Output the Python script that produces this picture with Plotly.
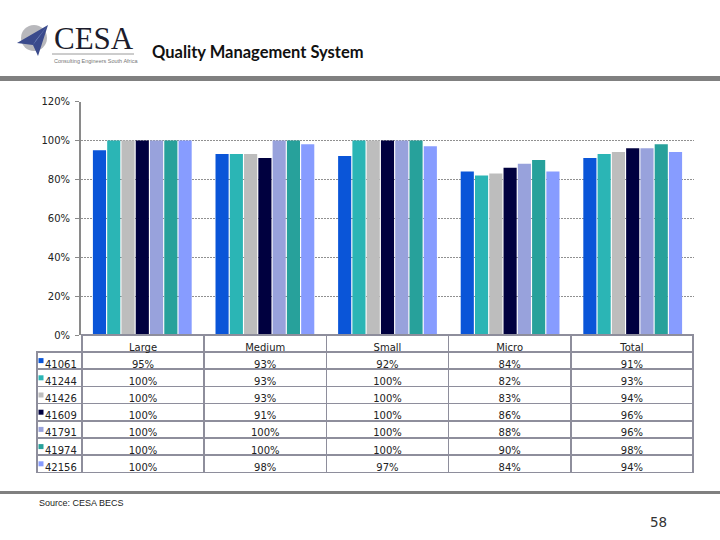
import plotly.graph_objects as go

# ---------------- data ----------------
categories = ["Large", "Medium", "Small", "Micro", "Total"]
series_names = ["41061", "41244", "41426", "41609", "41791", "41974", "42156"]
s41061 = [95, 93, 92, 84, 91]
s41244 = [100, 93, 100, 82, 93]
s41426 = [100, 93, 100, 83, 94]
s41609 = [100, 91, 100, 86, 96]
s41791 = [100, 100, 100, 88, 96]
s41974 = [100, 100, 100, 90, 98]
s42156 = [100, 98, 97, 84, 94]
series_values = [s41061, s41244, s41426, s41609, s41791, s41974, s42156]
y_ticks = [0, 20, 40, 60, 80, 100, 120]
y_tick_labels = ["0%", "20%", "40%", "60%", "80%", "100%", "120%"]
colors = ["#0a55d8", "#2bb5b5", "#bdbdbd", "#00003f", "#98a2dc", "#27a19b", "#879cff"]

W, H = 720, 540
def px(x):
    return x / W
def py(y):
    return 1 - y / H

fig = go.Figure()

for name, vals, col in zip(series_names, series_values, colors):
    fig.add_trace(go.Bar(x=categories, y=vals, name=name, marker=dict(color=col, line=dict(width=0)),
                         showlegend=False, hoverinfo="skip"))

# data table under the chart
TABLE_TOP, ROW_H, HEAD_H = 335, 17.2, 17
legend_col = list(series_names)
table_cols = [legend_col] + [[f"{series_values[i][j]}%" for i in range(len(series_names))]
                             for j in range(len(categories))]
border = "#8e8e9c"
fig.add_trace(go.Table(
    domain=dict(x=[px(37), px(693)], y=[py(474), py(TABLE_TOP)]),
    columnwidth=[45] + [122.5] * 5,
    header=dict(values=[""] + categories,
                fill=dict(color=["rgba(0,0,0,0)"] + ["white"] * 5),
                line=dict(color=["rgba(0,0,0,0)"] + [border] * 5, width=1.5),
                font=dict(family="DejaVu Sans", size=10, color="#222"),
                align="center", height=HEAD_H),
    cells=dict(values=table_cols,
               fill=dict(color="white"),
               line=dict(color=border, width=1.5),
               font=dict(family="DejaVu Sans", size=10, color="#222"),
               align=["left"] + ["center"] * 5, height=ROW_H),
))

fig.update_layout(
    width=W, height=H, autosize=False,
    margin=dict(l=0, r=0, t=0, b=0, pad=0),
    paper_bgcolor="white", plot_bgcolor="white",
    barmode="group", bargap=0.185, bargroupgap=0.08,
    xaxis=dict(domain=[px(81), px(694)], showticklabels=False, showgrid=False, automargin=False,
               zeroline=False, showline=False, ticks=""),
    yaxis=dict(domain=[py(335), py(101.5)], range=[0, 120], tickvals=y_ticks, ticktext=y_tick_labels,
               showgrid=True, gridcolor="#909090", griddash="2px,1px", gridwidth=1.3, automargin=False,
               zeroline=False, showline=True, linecolor="#8a8a8a", linewidth=2,
               ticks="outside", ticklen=4, tickcolor="#8a8a8a", ticklabelstandoff=3,
               tickfont=dict(family="DejaVu Sans", size=10, color="#222")),
    font=dict(family="DejaVu Sans"),
)

shapes = []
# separators
shapes.append(dict(type="rect", xref="paper", yref="paper", x0=0, x1=1, y0=py(81), y1=py(76),
                   fillcolor="#808080", line=dict(width=0)))
shapes.append(dict(type="rect", xref="paper", yref="paper", x0=0, x1=1, y0=py(494), y1=py(491),
                   fillcolor="#808080", line=dict(width=0)))
# legend keys in the table's first column
for k, col in enumerate(colors):
    cy = TABLE_TOP + HEAD_H + ROW_H * (k + 0.5)
    shapes.append(dict(type="rect", xref="paper", yref="paper", x0=px(38.5), x1=px(43.5),
                       y0=py(cy + 2.5), y1=py(cy - 2.5), fillcolor=col, line=dict(width=0)))
# logo
shapes.append(dict(type="circle", xref="paper", yref="paper", x0=px(21), x1=px(47), y0=py(51), y1=py(25),
                   fillcolor="#b8b8bc", line=dict(width=0)))
def path(pts):
    return "M " + " L ".join(f"{px(a):.5f},{py(b):.5f}" for a, b in pts) + " Z"
shapes.append(dict(type="path", xref="paper", yref="paper", path=path([(17, 43), (48, 25), (38, 56), (33, 45)]),
                   fillcolor="#3a4a8c", line=dict(width=0)))
shapes.append(dict(type="path", xref="paper", yref="paper", path=path([(33, 45), (48, 25), (36, 40)]),
                   fillcolor="#7f95c8", line=dict(width=0)))
shapes.append(dict(type="line", xref="paper", yref="paper", x0=px(52), x1=px(134), y0=py(54), y1=py(54),
                   line=dict(color="#9a9a9a", width=1)))
fig.update_layout(shapes=shapes)

annotations = [
    dict(text="CESA", x=px(52), y=py(38), xref="paper", yref="paper", xanchor="left", yanchor="middle",
         showarrow=False, font=dict(family="Liberation Serif", size=31, color="#1c1c2c")),
    dict(text="Consulting Engineers South Africa", x=px(52), y=py(61), xref="paper", yref="paper",
         xanchor="left", yanchor="middle", showarrow=False,
         font=dict(family="Liberation Sans", size=5.5, color="#777")),
    dict(text="<b>Quality Management System</b>", x=px(150), y=py(52), xref="paper", yref="paper",
         xanchor="left", yanchor="middle", showarrow=False,
         font=dict(family="Lato", size=16.5, color="#111")),
    dict(text="Source: CESA BECS", x=px(37), y=py(503), xref="paper", yref="paper",
         xanchor="left", yanchor="middle", showarrow=False,
         font=dict(family="Liberation Sans Narrow, Liberation Sans", size=9, color="#222")),
    dict(text="58", x=px(669), y=py(522), xref="paper", yref="paper",
         xanchor="right", yanchor="middle", showarrow=False,
         font=dict(family="DejaVu Sans", size=13.5, color="#333")),
]
fig.update_layout(annotations=annotations)

fig.write_html("out.html", config={"displayModeBar": False},
               post_script="document.body.style.margin='0';document.body.style.overflow='hidden';")
